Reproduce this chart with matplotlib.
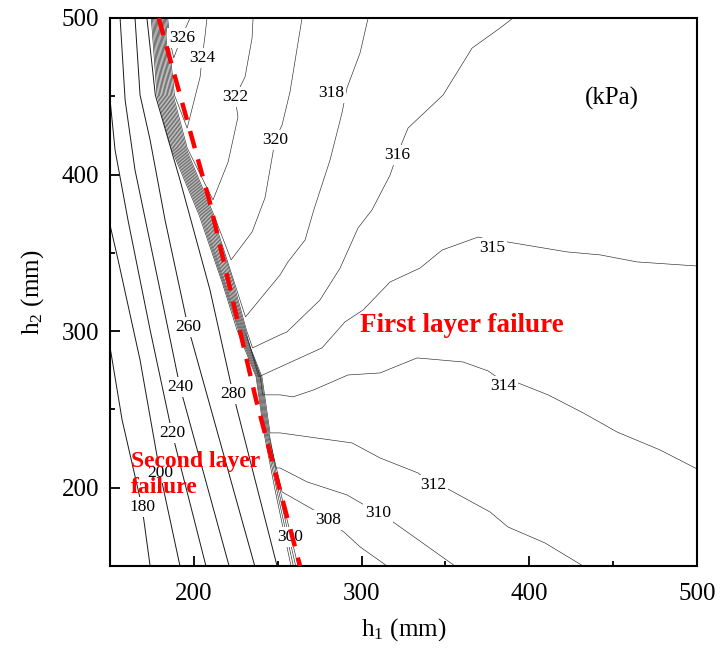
import matplotlib
matplotlib.use("Agg")
import matplotlib.pyplot as plt

plt.rcParams['font.family'] = ['Liberation Serif', 'DejaVu Serif']
plt.rcParams['mathtext.fontset'] = 'stix'

# ---------------- data (h1, h2 in mm; levels in kPa) ----------------
# Second-layer-failure contours (left region)
h1_180 = [150.0, 157.2, 169.1, 173.9]
h2_180 = [289.9, 243.3, 187.7, 150.0]
h1_200 = [150.0, 154.8, 167.9, 179.8, 191.7]
h2_200 = [367.8, 345.5, 281.6, 209.5, 150.0]
h1_220 = [150.0, 153.0, 160.7, 173.9, 187.0, 207.2]
h2_220 = [448.0, 415.7, 371.0, 300.8, 235.0, 150.0]
h1_240 = [156.0, 159.0, 164.9, 179.8, 191.7, 221.0]
h2_240 = [500.0, 447.6, 402.9, 326.3, 264.4, 150.0]
h1_260 = [164.9, 167.9, 173.9, 182.8, 196.5, 236.3]
h2_260 = [500.0, 450.8, 422.1, 371.0, 302.7, 150.0]
h1_280 = [172.0, 177.0, 191.7, 209.6, 223.4, 249.6]
h2_280 = [500.0, 450.8, 396.6, 326.3, 259.9, 150.0]

# Bundle contours that run the full height along the failure boundary
h1_300 = [174.6, 178.0, 186.4, 203.1, 216.8, 225.7, 237.1, 241.8, 248.4, 257.9]
h2_300 = [500.0, 450.8, 417.0, 374.2, 331.4, 300.8, 270.8, 235.0, 198.6, 150.0]
h1_302 = [175.3, 178.8, 187.2, 203.9, 217.4, 226.5, 237.6, 242.4, 249.4, 259.3]
h2_302 = [500.0, 450.8, 417.0, 374.2, 331.4, 300.8, 270.8, 235.0, 198.6, 150.0]
h1_304 = [176.0, 179.6, 188.0, 204.7, 218.0, 227.1, 238.2, 243.0, 250.4, 260.7]
h2_304 = [500.0, 450.8, 417.0, 374.2, 331.4, 300.8, 270.8, 235.0, 198.6, 150.0]
h1_306 = [176.7, 180.4, 188.8, 205.5, 218.6, 227.7, 238.8, 243.6, 251.4, 262.1]
h2_306 = [500.0, 450.8, 417.0, 374.2, 331.4, 300.8, 270.8, 235.0, 198.6, 150.0]

# First-layer-failure contours (branch off the boundary to the right)
h1_308 = [177.4, 181.2, 189.6, 206.3, 219.4, 228.3, 239.4, 244.2, 252.6, 271.5, 280.0, 290.1, 299.1, 315.2]
h2_308 = [500.0, 450.8, 417.0, 374.2, 331.4, 300.8, 270.8, 235.0, 197.3, 185.8, 179.4, 171.1, 162.2, 150.0]
h1_310 = [178.1, 182.0, 190.4, 207.1, 220.2, 228.9, 240.0, 244.8, 248.8, 251.4, 267.5, 291.3, 309.8, 318.8, 355.7]
h2_310 = [500.0, 450.8, 417.0, 374.2, 331.4, 300.8, 270.8, 235.0, 212.6, 212.6, 203.7, 195.4, 183.9, 178.1, 150.0]
h1_312 = [178.8, 182.8, 191.2, 207.9, 221.0, 229.5, 240.6, 245.4, 251.4, 294.3, 311.0, 333.7, 342.6, 351.5,
          368.9, 376.6, 387.3, 409.4, 432.1]
h2_312 = [500.0, 450.8, 417.0, 374.2, 331.4, 300.8, 270.8, 235.0, 235.0, 228.6, 219.0, 209.4, 201.8, 199.2,
          189.0, 184.5, 174.9, 164.7, 150.0]
h1_314 = [179.5, 183.6, 192.0, 208.7, 221.8, 230.1, 239.6, 241.0, 251.4, 259.1, 271.5, 291.9, 311.0, 333.1,
          360.5, 375.4, 384.3, 393.3, 411.2, 432.1, 452.3, 478.0, 500.0]
h2_314 = [500.0, 450.8, 417.0, 374.2, 331.4, 300.8, 270.8, 259.3, 259.3, 258.0, 262.5, 272.0, 273.3, 282.9,
          280.3, 274.6, 268.0, 266.9, 259.3, 247.8, 235.6, 224.1, 212.0]
h1_315 = [180.2, 184.4, 192.8, 209.5, 222.6, 230.7, 238.6, 251.4, 276.4, 290.1, 300.9, 317.0, 334.9, 348.0,
          369.5, 377.8, 387.3, 422.5, 442.2, 464.3, 500.0]
h2_315 = [500.0, 450.8, 417.0, 374.2, 331.4, 300.8, 270.8, 277.1, 289.3, 305.9, 313.5, 331.4, 340.3, 351.8,
          360.1, 358.0, 356.9, 350.6, 348.7, 344.2, 341.6]
h1_316 = [180.9, 185.2, 193.6, 210.3, 223.4, 231.3, 235.0, 251.4, 255.5, 275.2, 287.2, 297.9, 306.2, 317.0,
          321.1, 327.7, 348.6, 365.9, 382.6, 390.3]
h2_316 = [500.0, 450.8, 417.0, 374.2, 331.4, 300.8, 289.3, 297.6, 299.5, 319.9, 340.3, 365.9, 377.4, 399.7,
          412.5, 429.7, 450.8, 480.8, 493.6, 500.0]
h1_318 = [181.6, 186.0, 194.4, 211.1, 224.0, 230.8, 251.4, 256.1, 266.3, 271.5, 281.2, 288.3, 291.3, 299.1, 303.9]
h2_318 = [500.0, 450.8, 417.0, 374.2, 331.4, 309.1, 335.9, 344.2, 358.2, 377.4, 409.3, 439.3, 455.3, 477.7, 500.0]
h1_320 = [182.3, 186.8, 195.2, 211.9, 222.2, 234.7, 242.4, 246.6, 248.4, 252.6, 257.3, 264.5]
h2_320 = [500.0, 450.8, 417.0, 374.2, 345.5, 363.3, 385.1, 410.6, 422.1, 431.7, 452.7, 500.0]
h1_322 = [183.0, 187.6, 196.0, 211.4, 220.4, 226.3, 224.5, 230.5, 234.7, 235.3]
h2_322 = [500.0, 450.8, 417.0, 383.8, 408.0, 436.8, 449.5, 462.3, 487.2, 500.0]
h1_324 = [183.7, 188.4, 196.0, 203.7, 204.9, 206.7, 207.8]
h2_324 = [500.0, 450.8, 429.7, 462.3, 474.5, 489.1, 500.0]
h1_326 = [184.4, 185.6, 188.0, 192.0, 197.7]
h2_326 = [500.0, 486.0, 474.5, 486.0, 500.0]

left_lines = [
    (h1_180, h2_180), (h1_200, h2_200), (h1_220, h2_220), (h1_240, h2_240),
    (h1_260, h2_260), (h1_280, h2_280),
]
bundle_lines = [
    (h1_300, h2_300), (h1_302, h2_302), (h1_304, h2_304), (h1_306, h2_306),
    (h1_308, h2_308), (h1_310, h2_310), (h1_312, h2_312), (h1_314, h2_314),
    (h1_315, h2_315), (h1_316, h2_316), (h1_318, h2_318), (h1_320, h2_320),
    (h1_322, h2_322), (h1_324, h2_324), (h1_326, h2_326),
]

# Contour labels: text and position (h1, h2)
label_text = ['326', '324', '322', '320', '318', '316', '315', '314', '312', '310', '308',
              '300', '280', '260', '240', '220', '200', '180']
label_h1 = [192.9, 204.9, 224.5, 248.4, 281.8, 321.1, 377.8, 384.3, 342.6, 309.8, 280.0,
            257.3, 223.4, 196.5, 191.7, 187.0, 179.8, 169.1]
label_h2 = [487.2, 474.5, 449.5, 422.1, 452.1, 412.5, 353.0, 265.0, 201.8, 183.9, 179.4,
            168.6, 259.9, 302.7, 264.4, 235.0, 209.5, 187.7]

# Failure-mode boundary (red dashed)
boundary_h1 = [179.0, 209.6, 237.1, 263.3]
boundary_h2 = [500.0, 382.0, 256.1, 150.0]

x_ticks = [200, 300, 400, 500]
y_ticks = [200, 300, 400, 500]

# ---------------- figure ----------------
fig = plt.figure(figsize=(7.21, 6.64), dpi=100)
ax = fig.add_axes([0.1526, 0.1476, 0.8141, 0.8253])

for xs, ys in left_lines:
    ax.plot(xs, ys, color='#1a1a1a', lw=0.7, zorder=2)
for xs, ys in bundle_lines:
    ax.plot(xs, ys, color='#2a2a2a', lw=0.45, zorder=2)

for t, x, y in zip(label_text, label_h1, label_h2):
    ax.text(x, y, t, fontsize=12.5, ha='center', va='center', zorder=3,
            bbox=dict(boxstyle='square,pad=0.12', fc='white', ec='none'))

ax.plot(boundary_h1, boundary_h2, color='#ff0000', lw=3.2,
        linestyle=(0, (4.0, 2.6)), zorder=4, solid_capstyle='butt', dash_capstyle='butt')

ax.text(449.3, 448.9, '(kPa)', fontsize=18, ha='center', va='center')
ax.text(299.1, 303.9, 'First layer failure', fontsize=19.5, fontweight='bold',
        color='#ff0000', ha='left', va='center', zorder=5)
ax.text(162.3, 208.5, 'Second layer\nfailure', fontsize=17, fontweight='bold',
        color='#ff0000', ha='left', va='center', linespacing=1.3, zorder=5)

ax.set_xlim(150, 500)
ax.set_ylim(150, 500)
ax.set_xticks(x_ticks)
ax.set_yticks(y_ticks)
ax.set_xticks([250, 350, 450], minor=True)
ax.set_yticks([250, 350, 450], minor=True)
ax.tick_params(which='both', direction='in', top=False, right=False, labelsize=18, width=1.3)
ax.tick_params(axis='x', which='both', pad=12)
ax.tick_params(axis='y', which='both', pad=8)
ax.tick_params(which='major', length=7)
ax.tick_params(which='minor', length=3.6)
for s in ax.spines.values():
    s.set_linewidth(1.5)

ax.set_xlabel(r'h$_{\mathregular{1}}$ (mm)', fontsize=18, labelpad=8)
ax.set_ylabel(r'h$_{\mathregular{2}}$ (mm)', fontsize=18, labelpad=11)

fig.savefig('out.png', dpi=100)
